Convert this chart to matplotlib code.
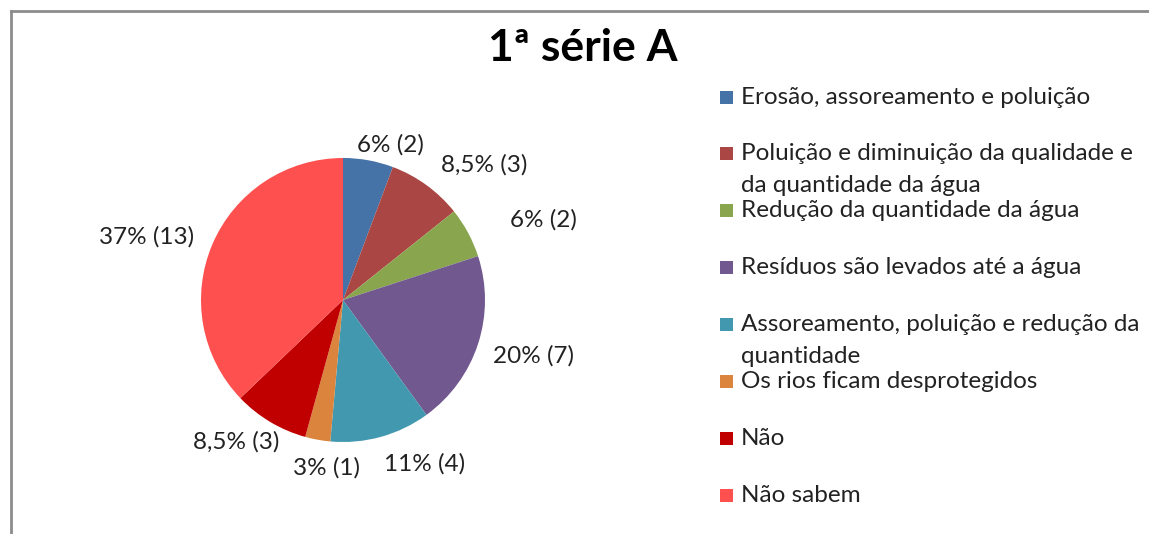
import numpy as np
import matplotlib
matplotlib.use("Agg")
import matplotlib.pyplot as plt
from matplotlib.lines import Line2D
from matplotlib.patches import Rectangle

plt.rcParams['font.family'] = ['Lato', 'DejaVu Sans']

# respostas da 1ª série A
categorias = [
    "Erosão, assoreamento e poluição",
    "Poluição e diminuição da qualidade e\nda quantidade da água",
    "Redução da quantidade da água",
    "Resíduos são levados até a água",
    "Assoreamento, poluição e redução da\nquantidade",
    "Os rios ficam desprotegidos",
    "Não",
    "Não sabem",
]
contagens = [2, 3, 2, 7, 4, 1, 3, 13]
percentuais = ["6%", "8,5%", "6%", "20%", "11%", "3%", "8,5%", "37%"]
cores = ["#4572A7", "#AA4643", "#89A54E", "#71588F",
         "#4198AF", "#DB843D", "#C00000", "#FF5050"]

# pequenos ajustes (px) dos rótulos para não encostarem nas fatias
ajustes = [(20, -6), (8, 0), (32, -3), (4, 2), (0, -5), (11, -6), (15, 1), (-8, -8)]

W, H, DPI = 1149, 534, 100
fig = plt.figure(figsize=(W / DPI, H / DPI), dpi=DPI)

# pizza: centro em (343, 300) px, raio 142 px
cx, cy, raio = 343, H - 300, 142
lim = 1.5
lado = 2 * lim * raio
ax = fig.add_axes([(cx - lado / 2) / W, (cy - lado / 2) / H, lado / W, lado / H])

wedges, _ = ax.pie(contagens, colors=cores, startangle=90, counterclock=False,
                   radius=1, wedgeprops=dict(linewidth=0))
ax.set_xlim(-lim, lim)
ax.set_ylim(-lim, lim)
ax.set_aspect('equal')
ax.axis('off')

# rótulos de dados fora das fatias
for w, n, p, aj in zip(wedges, contagens, percentuais, ajustes):
    ang = np.deg2rad((w.theta1 + w.theta2) / 2)
    sx, cyy = np.cos(ang), np.sin(ang)
    ha = 'left' if sx > 0.2 else ('right' if sx < -0.2 else 'center')
    va = 'bottom' if cyy > 0.3 else ('top' if cyy < -0.3 else 'center')
    r = 1.08
    ax.annotate(f"{p} ({n})", (r * sx, r * cyy), xytext=aj,
                textcoords='offset pixels', ha=ha, va=va,
                fontsize=17.5, color='#222222')

# título
fig.text(583 / W, 1 - 48 / H, "1ª série A", ha='center', va='center',
         fontsize=32, fontweight='bold', color='black')

# legenda
y0, passo, linha = 97, 56.9, 32
for i, (cat, cor) in enumerate(zip(categorias, cores)):
    y = y0 + i * passo
    fig.add_artist(Rectangle((720 / W, 1 - (y + 6.5) / H), 13 / W, 13 / H,
                             transform=fig.transFigure, color=cor, lw=0))
    for j, txt in enumerate(cat.split("\n")):
        fig.text(741 / W, 1 - (y + j * linha) / H, txt, ha='left',
                 va='center', fontsize=17.5, color='#222222')

# moldura da área do gráfico
borda = dict(color='#8C8C8C', lw=2, transform=fig.transFigure)
fig.add_artist(Line2D([11 / W, 11 / W], [0, 1 - 11 / H], **borda))
fig.add_artist(Line2D([11 / W, 1], [1 - 11 / H, 1 - 11 / H], **borda))

fig.savefig("out.png", dpi=DPI, facecolor='white')
